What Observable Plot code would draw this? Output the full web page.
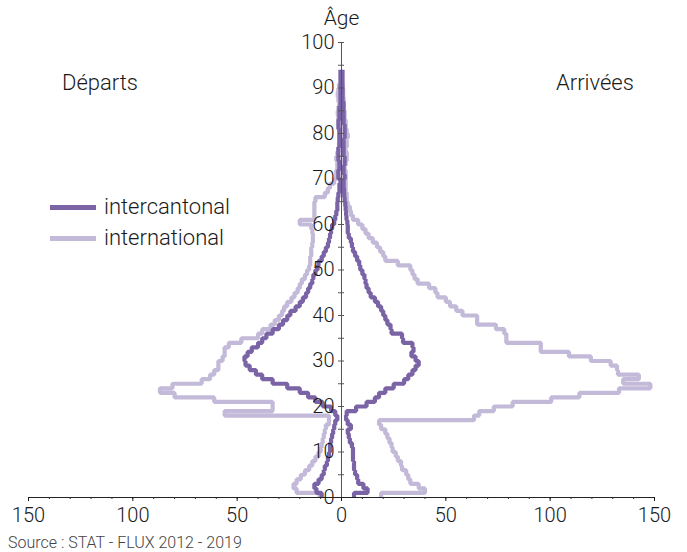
<!DOCTYPE html>
<html><head><meta charset="utf-8">
<script src="https://cdn.jsdelivr.net/npm/d3@7"></script>
<script src="https://cdn.jsdelivr.net/npm/@observablehq/plot@0.6"></script>
<style>
html,body{margin:0;padding:0;background:#fff;}
body{font-family:Roboto,"Liberation Sans",sans-serif;font-weight:300;color:#1a1a1a;}
#wrap{position:relative;width:687px;height:552px;overflow:hidden;}
#chart svg text{font-weight:300;}
.lab{position:absolute;font-size:22px;line-height:1;white-space:nowrap;}
.leg{position:absolute;left:50px;display:flex;align-items:center;font-size:22px;line-height:1;}
.leg span.sw{display:inline-block;width:46px;height:5px;margin-right:8px;}
#src{position:absolute;left:8px;top:535px;font-size:16px;line-height:16px;color:#444;white-space:nowrap;}
</style></head><body>
<div id="wrap">
  <div id="chart"></div>
  <div class="lab" style="left:62px;top:72px">Départs</div>
  <div class="lab" style="left:556px;top:72px">Arrivées</div>
  <div class="leg" style="top:196px"><span class="sw" style="background:#7a64a6"></span>intercantonal</div>
  <div class="leg" style="top:227px"><span class="sw" style="background:#c3b9d8"></span>international</div>
  <div id="src">Source : STAT - FLUX 2012 - 2019</div>
</div>
<script>
// Values by single year of age (index = age)
const intercantonalDeparts = [9.5,12,13,11,9.5,8.5,8,7,6.5,6,5.5,5.5,5,4.5,4,3.5,3,2,3,5,
  9,12.5,16,20,26,33,38,41,44,46,46.5,45,43,40,38,36,33,30,28,26,
  24.5,22,20,18.5,17,16,15,14,13.5,12.5,11.5,11,9.5,8.5,7.5,6.5,6,5.5,5,4.5,
  3.5,3,2.5,2,2,1.8,1.5,1,1,0.5,1.5,1.5,1,1,1.5,1.5,1.5,1,1,1,
  1,1.5,1.5,1,1,1,0.5,0.5,0.5,0.5,0.5,0.5,0.5,0.5];
const intercantonalArrivees = [6,12.5,10.5,8,7.5,6.5,6,6,5.5,5.5,5.5,5,4,3.5,3,4.5,3,2.2,2.5,7,
  12,16,18,21,25,30,32,34,35.5,37,35.5,33.5,34.5,34,29.5,29,24,23.5,22,21,
  20,19,17.5,16,14,13,12,11.5,11,10,9,8.5,7.5,6.5,5.5,5,4.5,3.5,3,3,
  2.8,2.4,2.2,2,1.8,1.5,1.3,1.2,1,1,1.5,1,1,1.5,1.5,1,1,1,1,1.5,
  1.5,1.5,1,1,1,1,1,0.5,0.5,0.5,0.5,0.5,0.5,0.5];
const internationalDeparts = [10.5,21.5,23,21.5,19.5,17.5,15.5,14,12.5,11,10,9.5,9,8.5,8,7.5,6,6,56,33,
  33,61,80,87,81,67,63,61,59,59,57,56,56,54,48,40,38,34,32,30,
  28.5,27.5,26,24,22.5,21,20,19,17.5,16.5,15.5,15,15,14.5,14.5,14,13.7,13.7,14,14.5,
  20,13,13,13,13,12.5,8,6.5,5.5,3.5,2.5,2.5,2,2,2.5,2,1.5,1.2,1,1,
  1,1,1.2,1.5,1.8,1.5,1.2,1.5,1.8,1.5,1.2];
const internationalArrivees = [19,40,37,33,32,31,29,28.5,27,26,24.5,24,23,22,21,19,18,63.5,66,73,
  82,100.5,114,133,148,135,142.5,132.5,132,129,119.5,109,95.5,95.5,79,79,78,74,65,65,
  58,55,52,50,46,45,42,36.5,35,34,33,27,21,20,18.5,17,15,13,11.5,10,
  8,5.5,4.5,4,3,2.5,2.5,2,2,2,2,2,1.5,2,2.5,2.5,2,2.5,2.5,3,
  2.5,2,2,1.5,1.5,1,1,1,0.8,0.8,0.5];
const xMajorTicks = [-150,-100,-50,0,50,100,150];
const xMinorTicks = d3.range(-150, 151, 10);
const yTicks = d3.range(0, 101, 5);
const yLabels = d3.range(0, 101, 10);

const darkColor = "#7a64a6", lightColor = "#c3b9d8";

// step-shaped path: each age value held from age a to a+1
function steps(vals, sign) {
  const out = [];
  vals.forEach((v, a) => { out.push({age: a, v: sign * v}); out.push({age: a + 1, v: sign * v}); });
  return out;
}
const lineOpts = (color) => ({x: "v", y: "age", stroke: color, strokeWidth: 4.2, strokeLinejoin: "miter", strokeLinecap: "butt"});

const chart = Plot.plot({
  width: 687, height: 530,
  marginLeft: 28, marginRight: 33, marginTop: 42, marginBottom: 33,
  x: {domain: [-150, 150], axis: null, label: null},
  y: {domain: [0, 100], axis: null, label: null},
  style: {fontFamily: "Roboto, 'Liberation Sans', sans-serif", fontSize: "20px", color: "#1a1a1a", background: "#fff"},
  marks: [
    Plot.line(steps(internationalDeparts, -1), lineOpts(lightColor)),
    Plot.line(steps(internationalArrivees, 1), lineOpts(lightColor)),
    Plot.line(steps(intercantonalDeparts, -1), lineOpts(darkColor)),
    Plot.line(steps(intercantonalArrivees, 1), lineOpts(darkColor)),
    Plot.ruleX([0], {stroke: "#555", strokeWidth: 1}),
    Plot.ruleY(yTicks, {y: d => d, x1: 0, x2: 0, insetLeft: -3, insetRight: -3, stroke: "#555"}),
    Plot.text(yLabels, {x: 0, y: d => d, text: d => String(d), textAnchor: "end", dx: -7, fontSize: 20}),
    Plot.ruleY([0], {stroke: "#222", strokeWidth: 1}),
    Plot.ruleX(xMinorTicks, {x: d => d, y1: 0, y2: 0, insetTop: 0, insetBottom: -2, stroke: "#333"}),
    Plot.axisX(xMajorTicks, {tickFormat: d => String(Math.abs(d)), tickSize: 4, tickPadding: 6, fontSize: 20, label: null}),
    Plot.text(["Âge"], {x: 0, frameAnchor: "top", lineAnchor: "middle", dy: -24, fontSize: 21})
  ]
});
document.getElementById("chart").appendChild(chart);
</script>
</body></html>
